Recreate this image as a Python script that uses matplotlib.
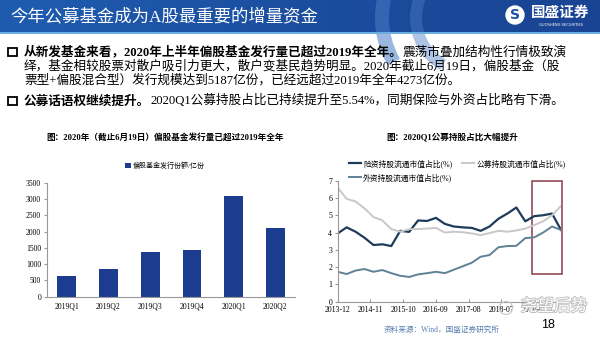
import numpy as np
import matplotlib.pyplot as plt
import matplotlib.patheffects as pe
from matplotlib.patches import Rectangle, Circle, Wedge
from matplotlib.colors import LinearSegmentedColormap

plt.rcParams['font.family'] = ['Liberation Serif', 'Noto Sans CJK SC', 'DejaVu Sans']

# --- data ---
bar_cats = ['2019Q1', '2019Q2', '2019Q3', '2019Q4', '2020Q1', '2020Q2']
bar_vals = [650, 860, 1360, 1445, 3100, 2115]
bar_name = '偏股基金发行份额/亿份'

dates = ['2013-12', '2014-03', '2014-06', '2014-09', '2014-12', '2015-03', '2015-06',
         '2015-09', '2015-12', '2016-03', '2016-06', '2016-09', '2016-12', '2017-03',
         '2017-06', '2017-09', '2017-12', '2018-03', '2018-06', '2018-09', '2018-12',
         '2019-03', '2019-06', '2019-09', '2019-12', '2020-03']
insurance = [3.95, 4.30, 4.05, 3.70, 3.28, 3.32, 3.22, 4.10, 4.04, 4.70, 4.67, 4.85, 4.50,
             4.35, 4.30, 4.27, 4.10, 4.35, 4.80, 5.10, 5.45, 4.65, 4.95, 5.00, 5.10, 4.15]
public_fund = [6.60, 5.95, 5.80, 5.40, 4.90, 4.70, 4.20, 4.05, 4.20, 4.20, 4.23, 4.27, 4.00,
               4.05, 4.02, 3.95, 3.85, 3.97, 4.10, 4.05, 4.12, 4.23, 4.43, 4.65, 5.00, 5.54]
foreign = [1.73, 1.60, 1.80, 1.89, 1.73, 1.83, 1.65, 1.50, 1.43, 1.58, 1.65, 1.73, 1.65,
           1.85, 2.05, 2.25, 2.60, 2.70, 3.15, 3.22, 3.23, 3.68, 3.72, 4.00, 4.35, 4.15]
line_names = ['险资持股流通市值占比(%)', '公募持股流通市值占比(%)', '外资持股流通市值占比(%)']
line_ticks = ['2013-12', '2014-11', '2015-10', '2016-09', '2017-08', '2018-07', '2019-06']

title = '今年公募基金成为A股最重要的增量资金'
bar_title = '图：2020年（截止6月19日）偏股基金发行量已超过2019年全年'
line_title = '图：2020Q1公募持股占比大幅提升'


def months(s):
    return (int(s[:4]) - 2013) * 12 + int(s[5:]) - 12


W, H = 600, 338
fig = plt.figure(figsize=(6, 3.38), dpi=100)


def fx(x):
    return x / W


def fy(y):
    return 1 - y / H


# --- bar chart ---
axb = fig.add_axes([fx(46.7), fy(296.7), (295 - 46.7) / W, (296.7 - 182.7) / H])
axb.bar(range(len(bar_cats)), bar_vals, width=0.45, color='#1c3d8f', label=bar_name)
axb.set_xlim(-0.48, 5.47)
axb.set_ylim(0, 3500)
axb.set_yticks(np.arange(0, 3501, 500))
axb.set_xticks(range(len(bar_cats)), bar_cats)
for s in ['top', 'right']:
    axb.spines[s].set_visible(False)
for s in ['left', 'bottom']:
    axb.spines[s].set_color('#999999')
    axb.spines[s].set_linewidth(0.8)
axb.tick_params(labelsize=5.5, length=2, color='#999999', pad=2)
axb.tick_params(axis='x', length=0, pad=4)
axb.legend(loc='center', bbox_to_anchor=(fx(165), fy(165)), bbox_transform=fig.transFigure,
           frameon=False, fontsize=5, handlelength=0.8, handleheight=0.8, handletextpad=0.3)

# --- line chart ---
axl = fig.add_axes([fx(337.7), fy(301.7), (561 - 337.7) / W, (301.7 - 180.7) / H])
mx = [months(d) for d in dates]
l1, = axl.plot(mx, insurance, color='#1f3b5c', lw=1.6, label=line_names[0])
l2, = axl.plot(mx, public_fund, color='#c8c8c8', lw=1.4, label=line_names[1])
l3, = axl.plot(mx, foreign, color='#5f8196', lw=1.4, label=line_names[2])
axl.set_xlim(0, 75)
axl.set_ylim(0, 7)
axl.set_yticks(range(8))
axl.set_xticks([months(t) for t in line_ticks], line_ticks)
for s in ['top', 'right']:
    axl.spines[s].set_visible(False)
for s in ['left', 'bottom']:
    axl.spines[s].set_color('#999999')
    axl.spines[s].set_linewidth(0.8)
axl.tick_params(labelsize=5.6, length=2, color='#999999', pad=2)
axl.tick_params(axis='x', direction='in', pad=3)
axl.add_patch(Rectangle((65.3, 1.58), 9.9, 5.42, fill=False, ec='#8b3a4a', lw=1.1, clip_on=False))
axl.legend([l1, l3, l2], [line_names[0], line_names[2], line_names[1]], ncol=2,
           loc='upper left', bbox_to_anchor=(fx(349), fy(159)), bbox_transform=fig.transFigure,
           frameon=False, fontsize=5.6, handlelength=1.5, handletextpad=0.3,
           columnspacing=1.3, labelspacing=0.7, borderaxespad=0, borderpad=0)

# --- page overlay in pixel coords ---
ov = fig.add_axes([0, 0, 1, 1])
ov.axis('off')

grad = np.linspace(0, 1, 256).reshape(1, -1)
cmap = LinearSegmentedColormap.from_list('hdr', ['#1f5cb0', '#1b4e9f', '#1a4393'])
ov.imshow(grad, extent=[0, 600, 32, 0], aspect='auto', cmap=cmap, zorder=0)
ov.add_patch(Wedge((470, 18), 95, 150, 212, width=14, color='#4a7cc6', alpha=0.55, lw=0))
ov.add_patch(Wedge((470, 18), 60, 120, 240, width=12, color='#4a7cc6', alpha=0.45, lw=0))
ov.add_patch(Rectangle((0, 31.5), 600, 2.5, color='#6aaee0', lw=0))
ov.text(10, 16.5, title, color='white', fontsize=12.5, va='center', ha='left')
ov.add_patch(Circle((515, 15), 9, color='white'))
ov.text(515, 15, 'S', color='#1c4f9f', fontsize=10, weight='bold', ha='center', va='center',
        family='DejaVu Sans')
ov.text(531, 13, '国盛证券', color='white', fontsize=10.5, weight='bold', va='center')
ov.text(561, 25, 'GUOSHENG SECURITIES', color='white', fontsize=2.6, ha='center', va='center',
        family='DejaVu Sans')


def rich(x, y, parts, size=9.1):
    prev = ov.text(x, y, parts[0][0], fontsize=size, weight=parts[0][1], va='center')
    for s, w in parts[1:]:
        prev = ov.annotate(s, xy=(1, 0), xycoords=prev, fontsize=size, weight=w, va='bottom')


ov.add_patch(Rectangle((8, 47.5), 8.5, 8.5, fill=False, ec='black', lw=1.3))
rich(24, 52, [('从新发基金来看，2020年上半年偏股基金发行量已超过2019年全年。', 'bold'),
              ('震荡市叠加结构性行情极致演', 'normal')])
rich(24, 66, [('绎，基金相较股票对散户吸引力更大，散户变基民趋势明显。2020年截止6月19日，偏股基金（股', 'normal')])
rich(24, 80, [('票型+偏股混合型）发行规模达到5187亿份，已经远超过2019年全年4273亿份。', 'normal')])
ov.add_patch(Rectangle((8, 96.5), 8.5, 8.5, fill=False, ec='black', lw=1.3))
rich(24, 101, [('公募话语权继续提升。', 'bold'),
               ('2020Q1公募持股占比已持续提升至5.54%，同期保险与外资占比略有下滑。', 'normal')])

ov.text(165, 137, bar_title, fontsize=6.2, weight='bold', ha='center', va='center')
ov.text(452, 137, line_title, fontsize=6.2, weight='bold', ha='center', va='center')

# watermark and footer
ov.add_patch(Circle((506, 308), 6.5, fill=False, ec='#c8c8c8', lw=0.8))
ov.text(554, 307, '尧望后势', fontsize=12, color='white', ha='center', va='center',
        path_effects=[pe.withStroke(linewidth=1.3, foreground='#bdbdbd')])
ov.text(442, 330, '资料来源：Wind，国盛证券研究所', fontsize=5.5, color='#5a7fb0',
        ha='center', va='center')
ov.text(548, 325, '18', fontsize=9, ha='center', va='center', family='Liberation Sans')

ov.set_xlim(0, 600)
ov.set_ylim(338, 0)

fig.savefig('out.png', dpi=100)
